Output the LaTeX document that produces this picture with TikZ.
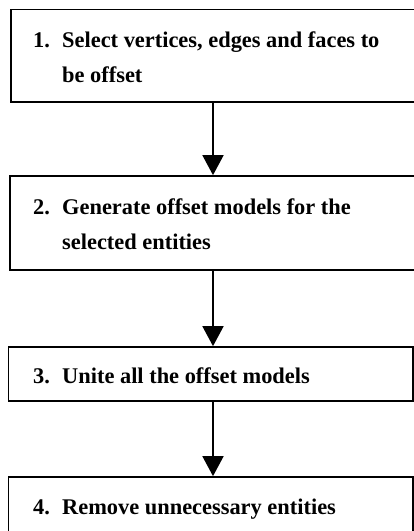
\documentclass[tikz,border=0pt]{standalone}
\usepackage{fontspec}
\setmainfont{Liberation Serif}
\usetikzlibrary{arrows.meta}
\begin{document}
\begin{tikzpicture}[x=1pt,y=1pt,
  stepbox/.style={draw=black,line width=1.7pt,rectangle,inner sep=0pt,fill=none},
  lbl/.style={anchor=base west,inner sep=0pt,font=\fontsize{22.4}{35}\selectfont\bfseries},
  flow/.style={line width=1.7pt,-{Triangle[width=21pt,length=20pt]}}]
\useasboundingbox (0,0) rectangle (414,-531);
\clip (0,0) rectangle (414,-531);
\fill[white] (0,0) rectangle (414,-531);
% boxes
\node[stepbox,minimum width=405pt,minimum height=92.5pt] (b1) at (213.5,-55.75) {};
\node[stepbox,minimum width=406pt,minimum height=94pt] (b2) at (213,-223) {};
\node[stepbox,minimum width=404.5pt,minimum height=54pt] (b3) at (210.75,-374) {};
\node[stepbox,minimum width=404.5pt,minimum height=70pt] (b4) at (210.75,-512) {};
% texts
\node[lbl] (n1) at (33,-47) {1.};
\node[lbl] (t1a) at (62,-47) {Select vertices, edges and faces to};
\node[lbl] (t1b) at (62,-82) {be offset};
\node[lbl] (n2) at (33,-214) {2.};
\node[lbl] (t2a) at (62,-214) {Generate offset models for the};
\node[lbl] (t2b) at (62,-249) {selected entities};
\node[lbl] (n3) at (33,-383) {3.};
\node[lbl] (t3a) at (62,-383) {Unite all the offset models};
\node[lbl] (n4) at (33,-514) {4.};
\node[lbl] (t4a) at (62,-514) {Remove unnecessary entities};
% connectors
\coordinate (ax) at (213,0);
\draw[flow] (b1.south -| ax) -- (b2.north -| ax);
\draw[flow] (b2.south -| ax) -- (b3.north -| ax);
\draw[flow] (b3.south -| ax) -- (b4.north -| ax);
\end{tikzpicture}
\end{document}
